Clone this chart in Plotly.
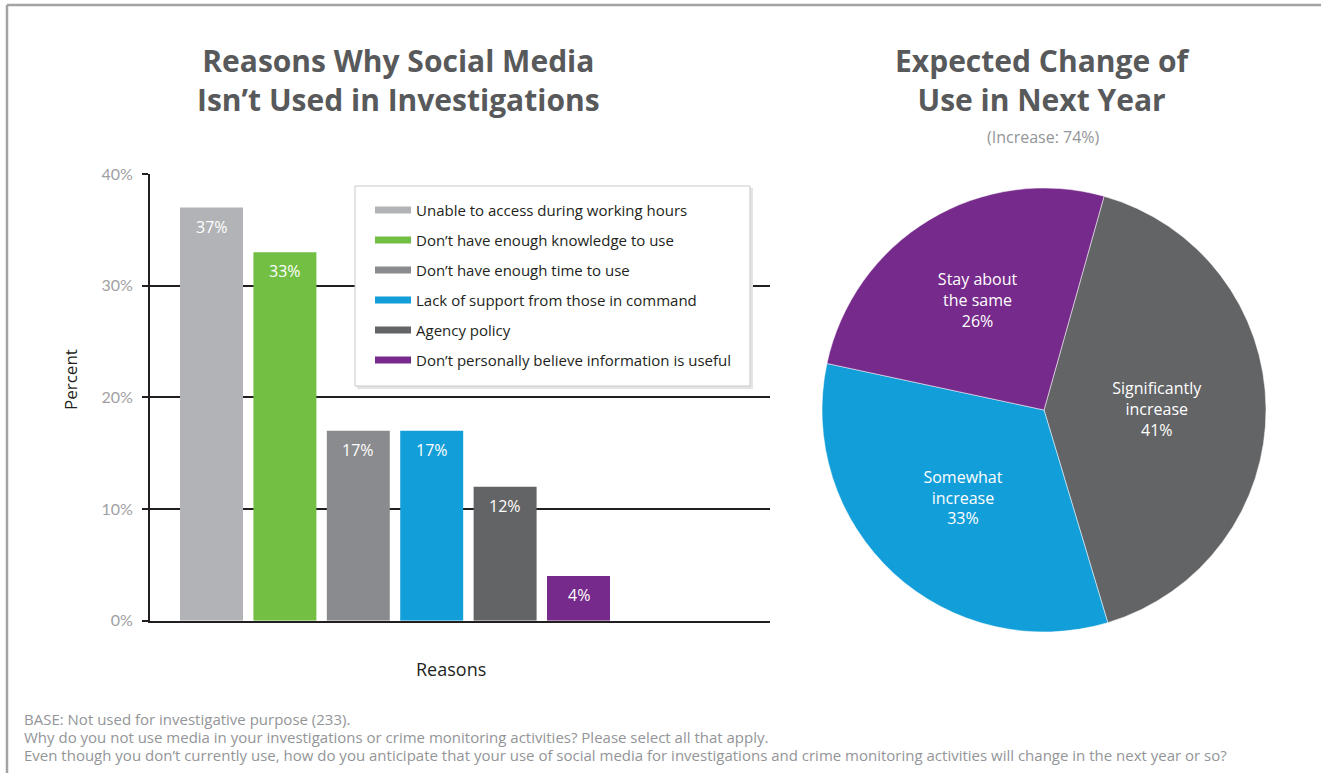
import plotly.graph_objects as go

W, H = 1321, 773

# --- data -------------------------------------------------------------------
reasons = [
    "Unable to access during working hours",
    "Don\u2019t have enough knowledge to use",
    "Don\u2019t have enough time to use",
    "Lack of support from those in command",
    "Agency policy",
    "Don\u2019t personally believe information is useful",
]
reason_pct = [37, 33, 17, 17, 12, 4]
reason_colors = ["#b1b3b6", "#72bf44", "#8a8b8e", "#129ed9", "#636466", "#762a8b"]

change_labels = ["Significantly<br>increase", "Somewhat<br>increase", "Stay about<br>the same"]
change_pct = [41, 33, 26]
change_colors = ["#636466", "#129ed9", "#762a8b"]

y_ticks = [0, 10, 20, 30, 40]
y_ticktext = ["0%", "10%", "20%", "30%", "40%"]

bar_title = ["Reasons Why Social Media", "Isn\u2019t Used in Investigations"]
pie_title = ["Expected Change of", "Use in Next Year"]
pie_subtitle = "(Increase: 74%)"

footnotes = [
    "BASE: Not used for investigative purpose (233).",
    "Why do you not use media in your investigations or crime monitoring activities? Please select all that apply.",
    "Even though you don\u2019t currently use, how do you anticipate that your use of social media for investigations and crime monitoring activities will change in the next year or so?",
]


def fx(px):
    return px / W


def fy(py):
    return 1 - py / H


FONT = "Open Sans"
DARK = "#231f20"
TITLE = "#58595b"
MUTED = "#939598"

fig = go.Figure()

# bars: one trace per reason so each gets its own legend entry
for i, (name, v, c) in enumerate(zip(reasons, reason_pct, reason_colors)):
    fig.add_trace(go.Bar(
        x=[name], y=[v], width=0.858, marker=dict(color=c, line=dict(width=0)),
        legendgroup=f"g{i}", showlegend=False, hoverinfo="skip",
        xaxis="x", yaxis="y",
    ))
    # flat swatch in the legend
    fig.add_trace(go.Scatter(
        x=[None], y=[None], mode="lines", name=name,
        line=dict(color=c, width=7), legendgroup=f"g{i}", showlegend=True,
        xaxis="x", yaxis="y",
    ))

fig.add_trace(go.Pie(
    labels=change_labels, values=change_pct, sort=False,
    direction="clockwise", rotation=15.7,
    marker=dict(colors=change_colors, line=dict(color="rgba(255,255,255,0.5)", width=1)),
    texttemplate="%{label}<br>%{percent:.0%}", textposition="inside",
    insidetextorientation="horizontal",
    textfont=dict(family=FONT, size=16, color="white"),
    domain=dict(x=[fx(822), fx(1266)], y=[fy(632), fy(188)]),
    showlegend=False, hoverinfo="skip",
))

annotations = []

# value labels at the top of each bar
for name, v in zip(reasons, reason_pct):
    annotations.append(dict(
        x=name, y=v, xref="x", yref="y", text=f"{v}%", showarrow=False,
        yanchor="middle", yshift=-19,
        font=dict(family=FONT, size=16, color="white"),
    ))

# chart titles
annotations += [
    dict(x=fx(398), y=fy(80), xref="paper", yref="paper",
         text="<b>" + "<br>".join(bar_title) + "</b>",
         showarrow=False, xanchor="center", yanchor="middle",
         font=dict(family=FONT, size=30, color=TITLE)),
    dict(x=fx(1042), y=fy(80), xref="paper", yref="paper",
         text="<b>" + "<br>".join(pie_title) + "</b>",
         showarrow=False, xanchor="center", yanchor="middle",
         font=dict(family=FONT, size=30, color=TITLE)),
    dict(x=fx(1043), y=fy(137), xref="paper", yref="paper",
         text=pie_subtitle, showarrow=False, xanchor="center", yanchor="middle",
         font=dict(family=FONT, size=16, color=MUTED)),
    dict(x=fx(70), y=fy(380), xref="paper", yref="paper", text="Percent",
         textangle=-90, showarrow=False, xanchor="center", yanchor="middle",
         font=dict(family=FONT, size=17, color=DARK)),
    dict(x=fx(451), y=fy(669), xref="paper", yref="paper", text="Reasons",
         showarrow=False, xanchor="center", yanchor="middle",
         font=dict(family=FONT, size=18, color=DARK)),
]

for k, line in enumerate(footnotes):
    annotations.append(dict(
        x=fx(22), y=fy(719 + 18 * k), xref="paper", yref="paper", text=line,
        showarrow=False, xanchor="left", yanchor="middle",
        font=dict(family=FONT, size=15, color=MUTED),
    ))

shapes = [
    # page frame (top and left edges)
    dict(type="line", xref="paper", yref="paper", x0=fx(7), x1=1, y0=fy(5), y1=fy(5),
         line=dict(color="#a3a3a3", width=2.5)),
    dict(type="line", xref="paper", yref="paper", x0=fx(7), x1=fx(7), y0=fy(5), y1=0,
         line=dict(color="#a3a3a3", width=2.5)),
    # legend panel with soft shadow
    dict(type="rect", xref="paper", yref="paper", layer="above",
         x0=fx(357), x1=fx(753), y0=fy(389), y1=fy(188),
         fillcolor="#e4e4e4", line=dict(width=0)),
    dict(type="rect", xref="paper", yref="paper", layer="above",
         x0=fx(355), x1=fx(750), y0=fy(386), y1=fy(186),
         fillcolor="white", line=dict(color="#c9c9c9", width=1)),
]

fig.update_layout(
    width=W, height=H,
    margin=dict(l=0, r=0, t=0, b=0, pad=0, autoexpand=False),
    paper_bgcolor="white", plot_bgcolor="white",
    barmode="overlay",
    font=dict(family=FONT, color=DARK),
    xaxis=dict(
        domain=[fx(150), fx(770)], range=[-0.838, 7.609], automargin=False,
        showticklabels=False, ticks="", showgrid=False, zeroline=False,
        showline=True, linecolor=DARK, linewidth=2, fixedrange=True,
    ),
    yaxis=dict(
        domain=[fy(620.7), fy(174)], range=[0, 40], automargin=False,
        tickvals=y_ticks, ticktext=y_ticktext,
        ticks="outside", ticklen=6, tickwidth=2, tickcolor=DARK,
        tickfont=dict(family="Lato", size=16, color="#a0a0a3"),
        ticklabelstandoff=6,
        showgrid=True, gridcolor=DARK, gridwidth=2, zeroline=False,
        showline=True, linecolor=DARK, linewidth=2, fixedrange=True,
    ),
    legend=dict(
        x=fx(370), y=fy(193.75), xanchor="left", yanchor="top",
        bgcolor="rgba(0,0,0,0)", borderwidth=0, itemwidth=36,
        font=dict(family=FONT, size=15, color=DARK),
        tracegroupgap=7.5, itemclick=False, itemdoubleclick=False,
    ),
    annotations=annotations,
    shapes=shapes,
)

fig.write_html("out.html")
